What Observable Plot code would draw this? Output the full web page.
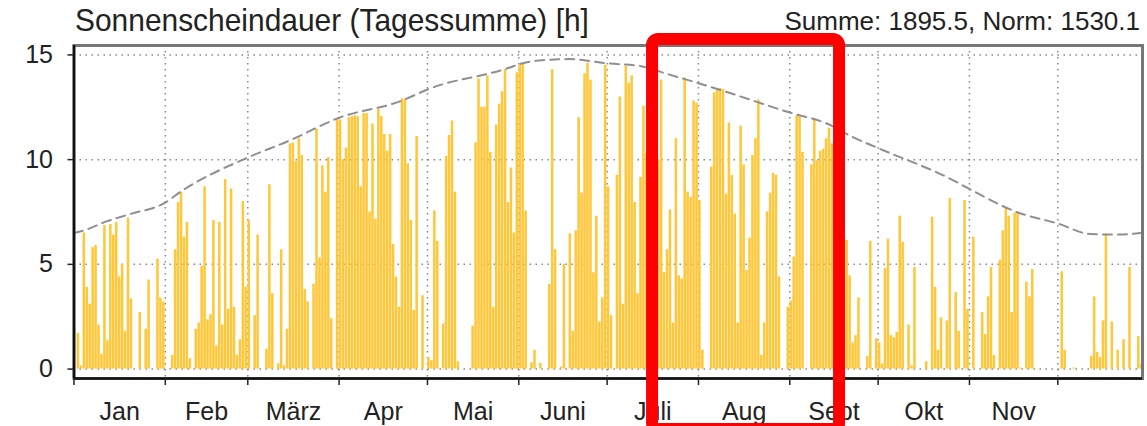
<!DOCTYPE html>
<html><head><meta charset="utf-8">
<script src="https://cdn.jsdelivr.net/npm/d3@7"></script>
<script src="https://cdn.jsdelivr.net/npm/@observablehq/plot@0.6"></script>
<style>
html,body{margin:0;padding:0;background:#fff;}
#wrap{position:relative;width:1147px;height:426px;overflow:hidden;font-family:"Liberation Sans",Arial,sans-serif;color:#222;}
#title{position:absolute;left:75px;top:4px;font-size:32px;line-height:1;white-space:nowrap;transform:scaleX(0.935);transform-origin:0 0;}
#sum{position:absolute;right:7px;top:8px;font-size:26px;line-height:1;white-space:nowrap;}
</style></head><body>
<div id="wrap"><div id="chart"></div><div id="title"></div><div id="sum"></div></div>
<script>
const year = 2022;
const titleText = "Sonnenscheindauer (Tagessumme) [h]";
const summeText = "Summe: 1895.5, Norm: 1530.1";
const monthNames = ["Jan","Feb","März","Apr","Mai","Juni","Juli","Aug","Sept","Okt","Nov",""];
const monthLengths = [31,28,31,30,31,30,31,31,30,31,30,31];
const yTicks = [0,5,10,15];

// daily sunshine hours, one array per month
const jan = [0,1.7,0.15,6.5,3.9,3.1,5.8,5.9,2.1,0.7,6.85,1.35,6.9,6.4,7.0,4.4,5.0,1.8,7.2,3.35,0,0,2.7,0,1.9,4.25,0,0,5.25,3.4,3.2];
const feb = [0,0,0.65,5.7,7.95,8.45,6.3,7.0,0.5,0,1.9,2.2,4.9,8.7,2.35,2.6,7.1,1.1,7.0,2.1,9.05,2.85,8.6,2.95,0.65,1.4,8.0,3.9];
const mar = [7.1,0,2.55,6.4,0,0,0.95,8.8,3.6,0,0.25,5.7,0.15,1.9,10.75,10.8,9.9,11.0,10.2,3.8,3.2,0,4.05,11.45,5.3,9.7,8.45,10.1,2.4,0,11.9];
const apr = [11.9,10.0,10.55,12.0,12.05,12.1,12.05,8.7,12.2,12.2,7.5,11.7,7.15,12.4,12.05,11.2,10.4,11.2,5.95,4.4,2.95,12.9,12.9,9.8,7.1,2.8,11.1,0,3.5,0];
const may = [0.55,0.4,7.55,6.1,0,2.15,10.15,11.15,11.85,8.45,0.35,0,0,0,0,2.05,10.8,13.85,12.5,12.5,14.0,10.35,2.95,11.65,12.65,13.25,14.3,7.95,9.6,6.5,14.15];
const jun = [14.55,14.55,7.55,0,0.3,0.9,0,0.27,0,0,4.05,14.3,5.7,0,0.1,5.0,0,6.45,1.8,6.6,12.0,8.4,14.1,14.6,13.8,4.6,7.3,2.25,3.4,14.5];
const jul = [8.7,2.55,0,9.25,13.0,3.1,14.45,13.65,14.0,7.95,3.6,9.15,12.55,10.3,6.0,11.0,9.0,10.0,13.8,4.6,5.7,7.6,2.2,11.0,4.45,4.3,13.9,8.45,8.2,12.8,12.7];
const aug = [8.05,0.9,0,0,9.65,13.2,13.4,13.4,13.35,8.35,11.75,9.25,7.4,2.2,11.6,9.75,4.7,6.25,10.2,11.0,12.85,0.65,2.2,7.5,8.4,9.35,9.25,4.4,0,0,2.95];
const sep = [3.25,5.35,12.1,12.05,10.35,0,0,9.75,11.95,9.95,10.4,10.5,11.0,11.5,10.75,11.0,8.0,6.0,4.0,6.15,4.45,1.25,1.6,3.4,0,0,0.6,6.1,0,1.45];
const oct = [1.25,0.25,4.8,6.2,1.6,1.5,1.75,7.3,6.05,0,2.1,0.15,4.85,0,0,0,0.35,0,7.25,3.9,0.9,2.45,0,2.3,8.15,0,3.65,1.8,0,8.05,2.85];
const nov = [0,6.3,0,0,2.7,1.65,3.45,4.85,0.65,0,5.2,6.6,7.65,7.3,2.7,7.45,7.45,0.05,0,4.15,3.45,4.75,0,0,0,0,0,0,0,0];
const dec = [0,4.65,0.9,0,0,0.05,0,0,0,0,0,0.6,3.45,0.8,0.55,2.3,6.45,0,2.25,0,0.9,0,1.4,0,4.85,0,0,1.55,0.2,0,0];

// astronomically possible sunshine (dashed curve): day of year -> hours
const maxDays  = [0,4,11,19,31,36,59,73,90,111,120,148,151,159,168,181,193,200,212,220,243,256,264,273,298,304,320,334,345,355,362];
const maxHours = [6.5,6.65,7.05,7.4,7.95,8.45,10.1,10.9,12.0,12.8,13.35,14.4,14.55,14.75,14.8,14.6,14.45,14.15,13.65,13.3,12.25,11.7,11.1,10.55,9.05,8.6,7.5,6.95,6.45,6.42,6.5];

// red highlight box annotation
const highlight = [{from: "2022-07-16T10:00Z", to: "2022-09-17T21:36Z", top: 15.74, bottom: -2.89}];

const xEndDays = 362.75;
const yDomain = [-0.45, 15.45];

// ---- build
const DAY = 864e5;
const t0 = Date.UTC(year, 0, 1);
const daily = [jan,feb,mar,apr,may,jun,jul,aug,sep,oct,nov,dec].flat();
const bars = daily.map((v,k) => ({start: new Date(t0 + k*DAY), end: new Date(t0 + (k+1)*DAY), value: v})).filter(d => d.value > 0);
const maxLine = maxDays.map((d,i) => ({date: new Date(t0 + d*DAY), value: maxHours[i]}));
let acc = 0;
const monthStarts = [], monthMids = [];
monthLengths.forEach(len => { monthStarts.push(new Date(t0 + acc*DAY)); monthMids.push(new Date(t0 + (acc + len/2)*DAY)); acc += len; });
const labelMap = new Map(monthMids.map((d,i) => [d.getTime(), monthNames[i]]));
const hl = highlight.map(h => ({from: new Date(h.from), to: new Date(h.to), top: h.top, bottom: h.bottom}));
const xStart = new Date(t0);

const grid = {stroke: "#888", strokeWidth: 1.5, strokeDasharray: "1.5,4.5"};

const chart = Plot.plot({
  width: 1147, height: 426,
  marginLeft: 73.5, marginRight: 5, marginTop: 45, marginBottom: 48,
  style: {fontFamily: "'Liberation Sans', Arial, sans-serif", fontSize: "25px", color: "#222", background: "white"},
  x: {type: "utc", domain: [xStart, new Date(t0 + xEndDays*DAY)]},
  y: {domain: yDomain},
  marks: [
    Plot.ruleY(yTicks, grid),
    Plot.ruleX(monthStarts.slice(1), grid),
    Plot.rectY(bars, {x1: "start", x2: "end", y: "value", fill: "#ffc83c", insetLeft: 0.2, insetRight: 0.2}),
    Plot.line(maxLine, {x: "date", y: "value", stroke: "#8f8f8f", strokeWidth: 2, strokeDasharray: "9,6", curve: "monotone-x"}),
    Plot.frame({stroke: "#777", strokeWidth: 3}),
    Plot.ruleX([xStart], {stroke: "#111", strokeWidth: 2.5}),
    Plot.ruleY([yDomain[0]], {stroke: "#111", strokeWidth: 2.5}),
    Plot.axisY(yTicks, {tickSize: 6, tickPadding: 15, fontSize: 25, strokeWidth: 1.5}),
    Plot.axisX(monthStarts, {tickSize: 7, tickFormat: () => "", strokeWidth: 1.5}),
    Plot.axisX(monthMids.slice(0, 11), {tickSize: 0, tickPadding: 24, fontSize: 25, tickFormat: d => labelMap.get(d.getTime())}),
    Plot.rect(hl, {x1: "from", x2: "to", y1: "bottom", y2: "top", fill: "none", stroke: "#ff0000", strokeWidth: 12, rx: 6})
  ]
});
document.getElementById("chart").appendChild(chart);
document.getElementById("title").textContent = titleText;
document.getElementById("sum").textContent = summeText;
</script>
</body></html>
